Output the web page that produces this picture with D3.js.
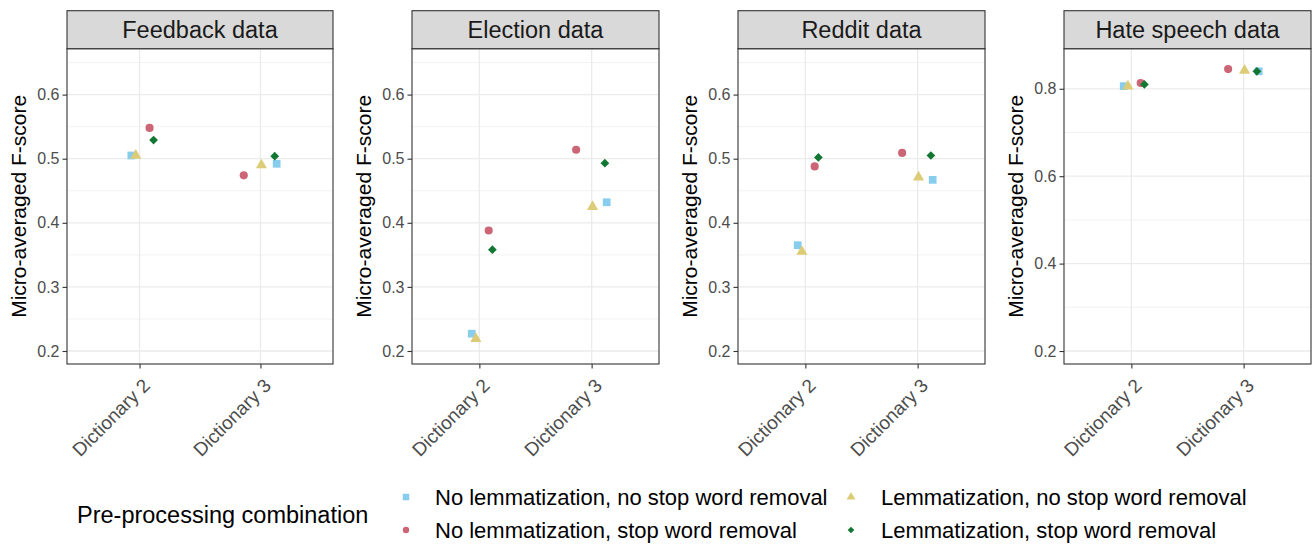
<!DOCTYPE html>
<html>
<head>
<meta charset="utf-8">
<script src="https://cdn.jsdelivr.net/npm/d3@7"></script>
<style>
  body { margin: 0; background: #fff; }
  svg { display: block; font-family: "Liberation Sans", Arial, sans-serif; }
</style>
</head>
<body>
<svg width="1313" height="545"></svg>
<script>
// data
var categories = ["Dictionary 2", "Dictionary 3"];
var panelNames = ["Feedback data", "Election data", "Reddit data", "Hate speech data"];
var seriesNames = [
    "No lemmatization, no stop word removal",
    "No lemmatization, stop word removal",
    "Lemmatization, no stop word removal",
    "Lemmatization, stop word removal"
];
var seriesColors = ["#88CCEE", "#CC6677", "#DDCC77", "#117733"];

// values per series: [Dictionary 2, Dictionary 3]
var feedback = [[0.505, 0.492], [0.548, 0.474], [0.505, 0.490], [0.529, 0.504]];
var election = [[0.227, 0.432], [0.388, 0.514], [0.219, 0.425], [0.358, 0.493]];
var reddit   = [[0.365, 0.467], [0.488, 0.509], [0.355, 0.471], [0.502, 0.505]];
var hate     = [[0.806, 0.840], [0.813, 0.845], [0.806, 0.842], [0.810, 0.840]];
var panelValues = [feedback, election, reddit, hate];

// horizontal jitter (category units) per series
var jitter = [[-0.068, 0.134], [0.083, -0.138], [-0.031, 0.008], [0.116, 0.118]];

var yTicksLow = [0.2, 0.3, 0.4, 0.5, 0.6];
var yMinorLow = [0.25, 0.35, 0.45, 0.55, 0.65];
var yTicksHate = [0.2, 0.4, 0.6, 0.8];
var yMinorHate = [0.3, 0.5, 0.7];

var svg = d3.select("svg");

var panelLeft = [67, 412, 738, 1064];
var panelRight = [333, 659, 985, 1311];
var stripTop = 10.7, panelTop = 48.7, panelBottom = 364;

var symbols = [
    {type: d3.symbolSquare, size: 60, rot: 0, lsize: 42},
    {type: d3.symbolCircle, size: 52, rot: 0, lsize: 32},
    {type: d3.symbolTriangle, size: 54, rot: 0, lsize: 34},
    {type: d3.symbolSquare, size: 38, rot: 45, lsize: 22}
];

panelNames.forEach(function(name, p) {
    var l = panelLeft[p], r = panelRight[p];
    var hatePanel = (p == 3);
    var y = d3.scaleLinear()
        .domain(hatePanel ? [0.1703, 0.8917] : [0.1797, 0.6716])
        .range([panelBottom, panelTop]);
    var x = d3.scalePoint().domain(categories).range([l, r]).padding(0.6);
    var ticks = hatePanel ? yTicksHate : yTicksLow;
    var minor = hatePanel ? yMinorHate : yMinorLow;

    var g = svg.append("g");

    // grid
    g.selectAll(".minor").data(minor).enter().append("line")
        .attr("x1", l).attr("x2", r)
        .attr("y1", function(d) { return y(d); })
        .attr("y2", function(d) { return y(d); })
        .attr("stroke", "#F1F1F1").attr("stroke-width", 0.9);
    g.selectAll(".major").data(ticks).enter().append("line")
        .attr("x1", l).attr("x2", r)
        .attr("y1", function(d) { return y(d); })
        .attr("y2", function(d) { return y(d); })
        .attr("stroke", "#EBEBEB").attr("stroke-width", 1.3);
    g.selectAll(".vgrid").data(categories).enter().append("line")
        .attr("x1", function(d) { return x(d); })
        .attr("x2", function(d) { return x(d); })
        .attr("y1", panelTop).attr("y2", panelBottom)
        .attr("stroke", "#EBEBEB").attr("stroke-width", 1.3);

    // points
    seriesNames.forEach(function(s, si) {
        var sym = symbols[si];
        g.selectAll(".pt" + si).data(panelValues[p][si]).enter().append("path")
            .attr("d", d3.symbol().type(sym.type).size(sym.size))
            .attr("transform", function(d, ci) {
                var px = x(categories[ci]) + jitter[si][ci] * x.step();
                return "translate(" + px + "," + y(d) + ") rotate(" + sym.rot + ")";
            })
            .attr("fill", seriesColors[si]);
    });

    // panel border
    g.append("rect")
        .attr("x", l).attr("y", panelTop)
        .attr("width", r - l).attr("height", panelBottom - panelTop)
        .attr("fill", "none").attr("stroke", "#333333").attr("stroke-width", 1.1);

    // strip
    g.append("rect")
        .attr("x", l).attr("y", stripTop)
        .attr("width", r - l).attr("height", panelTop - stripTop)
        .attr("fill", "#D9D9D9").attr("stroke", "#333333").attr("stroke-width", 1.1);
    g.append("text")
        .attr("x", (l + r) / 2).attr("y", (stripTop + panelTop) / 2)
        .attr("dy", "0.36em")
        .attr("text-anchor", "middle")
        .attr("font-size", 23.5).attr("fill", "#1A1A1A")
        .text(name);

    // y axis
    var yAxis = d3.axisLeft(y).tickValues(ticks).tickSize(4.5).tickPadding(3)
        .tickFormat(d3.format(".1f"));
    var ya = g.append("g").attr("transform", "translate(" + l + ",0)").call(yAxis);
    ya.select(".domain").remove();
    ya.selectAll(".tick line").attr("stroke", "#333333").attr("stroke-width", 1.1);
    ya.selectAll(".tick text").attr("font-size", 16).attr("fill", "#4D4D4D")
        .attr("font-family", "Liberation Sans, Arial, sans-serif");

    // x axis
    var xAxis = d3.axisBottom(x).tickSize(4.5).tickFormat("");
    var xa = g.append("g").attr("transform", "translate(0," + panelBottom + ")").call(xAxis);
    xa.select(".domain").remove();
    xa.selectAll(".tick line").attr("stroke", "#333333").attr("stroke-width", 1.1);
    g.selectAll(".xlab").data(categories).enter().append("text")
        .attr("transform", function(d) {
            return "translate(" + (x(d) + 2) + "," + (panelBottom + 13) + ") rotate(-45)";
        })
        .attr("dy", "0.72em")
        .attr("text-anchor", "end")
        .attr("font-size", 19).attr("fill", "#4D4D4D")
        .text(function(d) { return d; });

    // y title
    g.append("text")
        .attr("transform", "translate(" + (l - 49) + "," + ((panelTop + panelBottom) / 2) + ") rotate(-90)")
        .attr("dy", "0.36em")
        .attr("text-anchor", "middle")
        .attr("font-size", 21).attr("fill", "#000")
        .text("Micro-averaged F-score");
});

// legend
var legend = svg.append("g");
legend.append("text")
    .attr("x", 77).attr("y", 515).attr("dy", "0.36em")
    .attr("font-size", 23.5).attr("fill", "#000")
    .text("Pre-processing combination");

var keyX = [406, 851], textX = [435, 881], rowY = [497, 530];
seriesNames.forEach(function(s, si) {
    var col = Math.floor(si / 2), row = si % 2;
    var sym = symbols[si];
    legend.append("path")
        .attr("d", d3.symbol().type(sym.type).size(sym.lsize))
        .attr("transform", "translate(" + keyX[col] + "," + rowY[row] + ") rotate(" + sym.rot + ")")
        .attr("fill", seriesColors[si]);
    legend.append("text")
        .attr("x", textX[col]).attr("y", rowY[row]).attr("dy", "0.36em")
        .attr("font-size", 22).attr("fill", "#000")
        .text(s);
});
</script>
</body>
</html>
